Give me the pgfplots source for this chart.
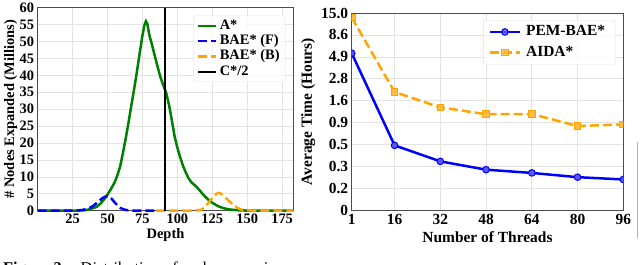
\documentclass[border=0pt]{standalone}
\usepackage{fontspec}
\setmainfont{Liberation Serif}
\usepackage{pgfplots}
\pgfplotsset{compat=1.18}
\newcommand\fsl{\fontsize{14.5}{16}\selectfont}
\newcommand\fsr{\fontsize{15.5}{17}\selectfont}
\definecolor{mgreen}{RGB}{0,128,0}
\definecolor{mblue}{RGB}{0,0,255}
\definecolor{morange}{RGB}{255,165,0}
\begin{document}
\begin{tikzpicture}
\useasboundingbox (0,0) rectangle (640bp,265bp);
\pgfplotsset{
  /pgf/number format/assume math mode=true,
  every axis/.append style={
    scale only axis, anchor=south west,
    grid=major, grid style={gray!22, line width=0.7bp},
    axis line style={gray!60!black, line width=0.8bp},
    major tick length=0, minor tick num=0,
    legend cell align=left,
  },
}
% ---------------- left axis ----------------
\begin{axis}[
  at={(37.7bp,54.3bp)}, width=255.6bp, height=203bp,
  xmin=0, xmax=183, ymin=0, ymax=60,
  xtick={25,50,...,175}, ytick={0,5,...,60},
  tick label style={font=\fsl\bfseries},
  xlabel={Depth}, ylabel={\# Nodes Expanded (Millions)},
  label style={font=\fsl\bfseries},
  xlabel style={at={(axis description cs:0.5,-0.12)}, anchor=center},
  ylabel style={at={(axis description cs:-0.106,0.5)}, anchor=center},
  clip=false,
  legend style={at={(1,1)}, anchor=north east, xshift=-8bp, yshift=-8bp,
    draw=gray!25, rounded corners=2bp, fill=white, fill opacity=0.8,
    draw opacity=1, text opacity=1, font=\fsl\bfseries,
    row sep=1.3bp, inner xsep=3bp, inner ysep=3bp,
    nodes={inner ysep=1bp, inner xsep=2.5bp, text height=9.5bp, text depth=2.5bp}},
  legend image code/.code={\draw[#1] (0bp,0bp) -- (18bp,0bp);},
]
\addplot[mgreen, line width=2.5bp] coordinates {
(0,0) (20,0) (25,0.02) (30,0.05) (33,0.1) (36,0.3) (40,0.8) (42.4,1.2) (45,2.1)
(48,3.6) (50,4.8) (52,6.1) (55,8.3) (57,10.4) (59,13.0) (61,17.0) (63,21.3)
(65,26.0) (67,31.0) (69,35.8) (71,41.0) (73,46.5) (75,51.8) (76.5,55.0) (77.5,56.0)
(78.5,55.2) (80,51.8) (82,48.8) (84,45.5) (86,42.3) (88,39.3) (90,37.0) (92,34.8)
(94,31.3) (96,26.8) (98,22.0) (100,18.6) (102,15.8) (104,13.3) (106,11.3) (108,9.6)
(110,8.4) (112,7.7) (114,6.9) (116,6.0) (118,5.0) (120,4.1) (122,3.3) (124,2.6)
(126,2.1) (128,1.6) (130,1.2) (133,0.75) (136,0.45) (140,0.25) (145,0.1) (150,0.04)
(160,0.01) (183,0)};
\addlegendentry{A*}
\addplot[mblue, line width=2.5bp, dash pattern=on 9bp off 4bp] coordinates {
(0,0) (20,0) (26,0.03) (30,0.12) (33,0.3) (35,0.5) (38,1.0) (40,1.5) (42,2.2)
(44,2.9) (46,3.6) (48,4.1) (50,4.3) (51,4.2) (53,3.5) (55,2.5) (57,1.6) (59,0.9)
(61,0.45) (64,0.15) (68,0.05) (75,0.01) (85,0)};
\addlegendentry{BAE* (F)}
\addplot[morange, line width=2.5bp, dash pattern=on 9bp off 4bp] coordinates {
(85,0) (108,0) (112,0.03) (114,0.08) (116,0.15) (118,0.5) (120,1.2) (122,2.2)
(124,3.2) (126,4.2) (128,5.0) (129.5,5.3) (131,5.1) (133,4.5) (134,4.1) (136,3.2)
(138,2.5) (139,2.1) (141,1.4) (143,0.85) (145,0.45) (147,0.25) (150,0.1) (155,0.03)
(160,0.01) (183,0)};
\addlegendentry{BAE* (B)}
\addplot[black, line width=2bp] coordinates {(91.3,0) (91.3,60)};
\addlegendentry{C*/2}
\end{axis}
% ---------------- right axis ----------------
\begin{axis}[
  at={(351.7bp,54.5bp)}, width=271.6bp, height=197.5bp,
  xmin=1, xmax=96, ymode=log, ymin=0.097443, ymax=15,
  xtick={1,16,32,48,64,80,96},
  ytick={0.097443,0.170525,0.298418,0.522231,0.913905,1.599334,2.798834,4.897959,8.571429,15},
  yticklabels={0,0.2,0.3,0.5,0.9,1.6,2.8,4.9,8.6,15.0},
  yminorgrids=false, yminorticks=false,
  tick label style={font=\fsr\bfseries},
  xlabel={Number of Threads}, ylabel={Average Time (Hours)},
  label style={font=\fsr\bfseries},
  xlabel style={at={(axis description cs:0.5,-0.133)}, anchor=center},
  ylabel style={at={(axis description cs:-0.16,0.5)}, anchor=center},
  clip marker paths=true,
  legend style={at={(1,1)}, anchor=north east, xshift=-8bp, yshift=-7bp,
    draw=gray!25, rounded corners=2bp, fill=white, fill opacity=0.8,
    draw opacity=1, text opacity=1, font=\fsr\bfseries,
    row sep=5bp, inner xsep=5bp, inner ysep=4bp,
    nodes={inner ysep=1bp, inner xsep=5bp, text height=10.5bp, text depth=3bp}},
  legend image code/.code={\draw[mark repeat=2,mark phase=2,#1] plot coordinates {(0bp,0bp) (15bp,0bp) (30bp,0bp)};},
]
\addplot[mblue, line width=2.5bp, mark=*, mark size=3.3bp,
  mark options={solid, fill=mblue!65!white, draw=mblue, line width=1bp}] coordinates {
(1,5.38) (16,0.513) (32,0.341) (48,0.276) (64,0.254) (80,0.228) (96,0.215)};
\addlegendentry{PEM-BAE*}
\addplot[morange, line width=2.5bp, dash pattern=on 9bp off 4bp, mark=square*, mark size=3.3bp,
  mark options={solid, fill=morange!75!white, draw=morange, line width=1bp}] coordinates {
(1,13.4) (16,2.00) (32,1.35) (48,1.137) (64,1.14) (80,0.84) (96,0.876)};
\addlegendentry{AIDA*}
\end{axis}
% ---------------- caption fragment (cut off by page edge) ----------------
\node[anchor=base west, inner sep=0pt, font=\fontsize{16.5}{18}\selectfont] at (3bp,-8bp)
  {\textbf{Figure 3.}\hspace{0.9em}Distribution of node expansions:};
\draw[gray!60, line width=1bp] (637.5bp,27bp) -- (637.5bp,123bp);
\end{tikzpicture}
\end{document}
